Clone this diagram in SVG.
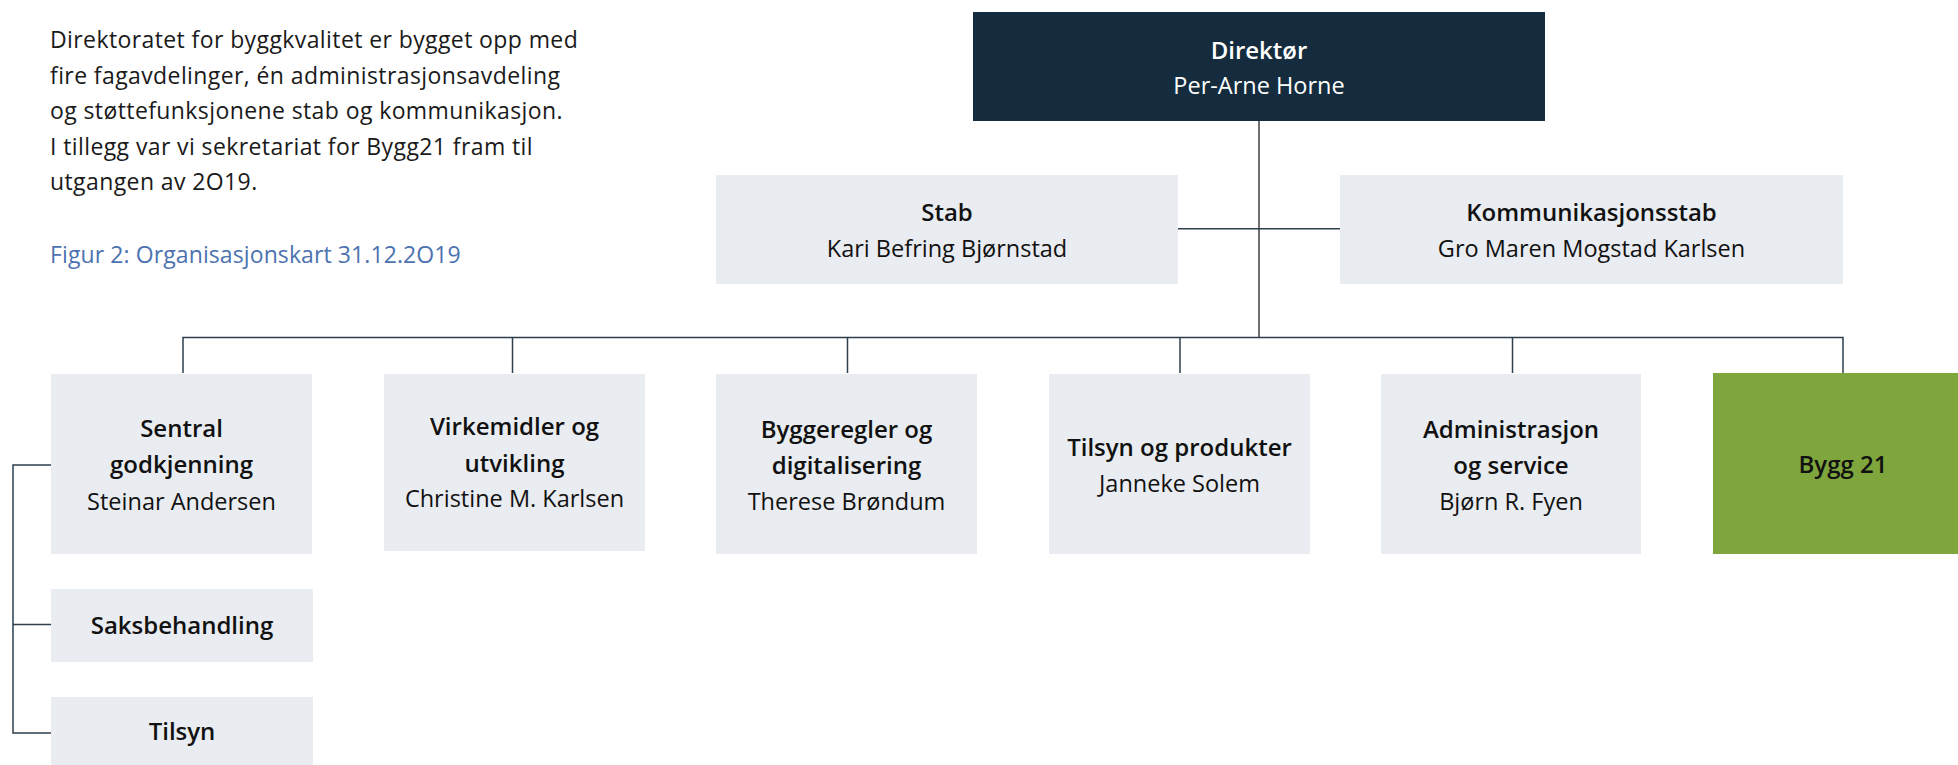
<svg xmlns="http://www.w3.org/2000/svg" width="1958" height="765" viewBox="0 0 1958 765">
<style>
text{font-family:"Open Sans","Noto Sans","Liberation Sans",sans-serif;}
.intro{font-size:23px;letter-spacing:0.4px;fill:#1a1a1a;}
.cap{font-size:23px;letter-spacing:0.1px;fill:#4d72b0;}
.box{fill:#e9ecf0;}
.t{font-size:24px;font-weight:600;fill:#111;text-anchor:middle;}
.n{font-size:23.5px;fill:#111;text-anchor:middle;}
.ln{stroke:#2c3f4d;stroke-width:1.5;fill:none;}
</style>
<rect width="1958" height="765" fill="#fff"/>
<g id="intro">
<text class="intro" x="50" y="48">Direktoratet for byggkvalitet er bygget opp med</text>
<text class="intro" x="50" y="83.5">fire fagavdelinger, én administrasjonsavdeling</text>
<text class="intro" x="50" y="119">og støttefunksjonene stab og kommunikasjon.</text>
<text class="intro" x="50" y="154.5">I tillegg var vi sekretariat for Bygg21 fram til</text>
<text class="intro" x="50" y="190">utgangen av 2O19.</text>
<text class="cap" x="50" y="263">Figur 2: Organisasjonskart 31.12.2O19</text>
</g>
<g id="connectors">
<line x1="1259" y1="121" x2="1259" y2="338" style="stroke:#111;stroke-width:1.2"/>
<line class="ln" x1="1178" y1="228.7" x2="1340" y2="228.7"/>
<path class="ln" d="M183 373V337.5H1843V373"/>
<line class="ln" x1="512.5" y1="337.5" x2="512.5" y2="373"/>
<line class="ln" x1="847.5" y1="337.5" x2="847.5" y2="373"/>
<line class="ln" x1="1180" y1="337.5" x2="1180" y2="373"/>
<line class="ln" x1="1512.5" y1="337.5" x2="1512.5" y2="373"/>
<path class="ln" d="M52 465H13V733H52M13 624.5H52"/>
</g>
<g id="direktor">
<rect x="973" y="12" width="572" height="109" fill="#142c3e"/>
<text class="t" x="1259" y="59" style="fill:#fff">Direktør</text>
<text class="n" x="1259" y="94" style="fill:#fff">Per-Arne Horne</text>
</g>
<g id="stab">
<rect class="box" x="716" y="175" width="462" height="109"/>
<text class="t" x="947" y="221">Stab</text>
<text class="n" x="947" y="257">Kari Befring Bjørnstad</text>
</g>
<g id="kommunikasjonsstab">
<rect class="box" x="1340" y="175" width="503" height="109"/>
<text class="t" x="1591.5" y="221">Kommunikasjonsstab</text>
<text class="n" x="1591.5" y="257">Gro Maren Mogstad Karlsen</text>
</g>
<g id="sentral">
<rect class="box" x="51" y="374" width="261" height="180"/>
<text class="t" x="181.5" y="437">Sentral</text>
<text class="t" x="181.5" y="473">godkjenning</text>
<text class="n" x="181.5" y="510">Steinar Andersen</text>
</g>
<g id="virkemidler">
<rect class="box" x="384" y="374" width="261" height="177"/>
<text class="t" x="514.5" y="435">Virkemidler og</text>
<text class="t" x="514.5" y="471.5">utvikling</text>
<text class="n" x="514.5" y="507">Christine M. Karlsen</text>
</g>
<g id="byggeregler">
<rect class="box" x="716" y="374" width="261" height="180"/>
<text class="t" x="846.5" y="438">Byggeregler og</text>
<text class="t" x="846.5" y="474">digitalisering</text>
<text class="n" x="846.5" y="510">Therese Brøndum</text>
</g>
<g id="tilsyn-produkter">
<rect class="box" x="1049" y="374" width="261" height="180"/>
<text class="t" x="1179.5" y="456">Tilsyn og produkter</text>
<text class="n" x="1179.5" y="491.5">Janneke Solem</text>
</g>
<g id="administrasjon">
<rect class="box" x="1381" y="374" width="260" height="180"/>
<text class="t" x="1511" y="438">Administrasjon</text>
<text class="t" x="1511" y="474">og service</text>
<text class="n" x="1511" y="510">Bjørn R. Fyen</text>
</g>
<g id="bygg21">
<rect x="1713" y="373" width="245" height="181" fill="#7ea63d"/>
<text class="t" x="1843" y="473">Bygg 21</text>
</g>
<g id="saksbehandling">
<rect class="box" x="51" y="589" width="262" height="73"/>
<text class="t" x="182" y="634">Saksbehandling</text>
</g>
<g id="tilsyn">
<rect class="box" x="51" y="697" width="262" height="68"/>
<text class="t" x="182" y="740">Tilsyn</text>
</g>
</svg>
